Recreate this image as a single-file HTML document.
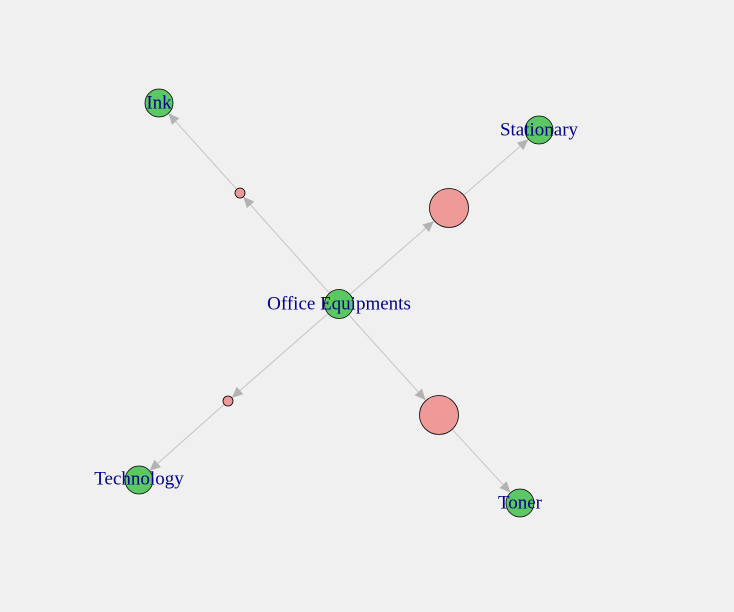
<!DOCTYPE html>
<html><head><meta charset="utf-8"><style>
html,body{margin:0;padding:0;background:#f0f0f0;width:734px;height:612px;overflow:hidden}
text{font-family:"Liberation Serif",serif;font-size:19px;fill:#00008b;text-anchor:middle;dominant-baseline:central}
</style></head><body>
<svg width="734" height="612" viewBox="0 0 734 612" xmlns="http://www.w3.org/2000/svg">
<defs>
<marker id="a" markerWidth="12" markerHeight="10" refX="11" refY="5" orient="auto" markerUnits="userSpaceOnUse">
<path d="M0,0 L11,5 L0,10 z" fill="#b3b3b3"/>
</marker>
</defs>
<g stroke="#c4c4c4" stroke-width="1" marker-end="url(#a)">
<line x1="350.3" y1="294.1" x2="433.9" y2="221.1"/>
<line x1="464.1" y1="194.9" x2="528.4" y2="139.2"/>
<line x1="329" y1="292.8" x2="243.3" y2="196.7"/>
<line x1="236.7" y1="189.3" x2="168.4" y2="113.4"/>
<line x1="327.7" y1="313.9" x2="231.8" y2="397.7"/>
<line x1="224.3" y1="404.3" x2="149.5" y2="470.7"/>
<line x1="349" y1="315.1" x2="425.6" y2="400.1"/>
<line x1="452.5" y1="429.7" x2="510.5" y2="492.7"/>
</g>
<g stroke="#000" stroke-width="0.8">
<circle cx="449" cy="208" r="19.5" fill="#ee9a99"/>
<circle cx="439" cy="415" r="19.5" fill="#ee9a99"/>
<circle cx="240" cy="193" r="5" fill="#ee9a99"/>
<circle cx="228" cy="401" r="5" fill="#ee9a99"/>
<circle cx="339" cy="304" r="14.5" fill="#5cc863"/>
<circle cx="159" cy="103" r="14" fill="#5cc863"/>
<circle cx="539" cy="130" r="14" fill="#5cc863"/>
<circle cx="139" cy="480" r="14" fill="#5cc863"/>
<circle cx="520" cy="503" r="14" fill="#5cc863"/>
</g>
<text x="339" y="304">Office Equipments</text>
<text x="159" y="103">Ink</text>
<text x="539" y="130">Stationary</text>
<text x="139" y="479">Technology</text>
<text x="520" y="503">Toner</text>
</svg>
</body></html>
